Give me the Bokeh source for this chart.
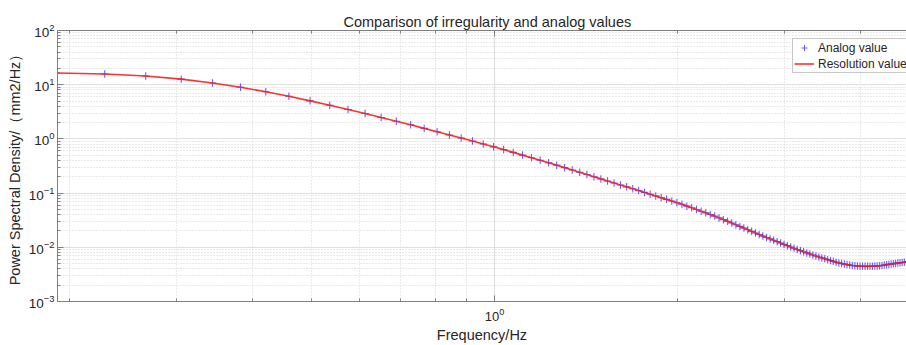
import math
from bokeh.plotting import figure
from bokeh.models import (Range1d, FixedTicker, LogAxis, Legend, LegendItem,
                          CustomJSTickFormatter, LogTickFormatter)
from bokeh.embed import file_html
from bokeh.resources import INLINE

# ---------------- data ----------------
FREQ = [
    0.1900, 0.2284, 0.2668, 0.3052, 0.3436, 0.3820, 0.4204, 0.4588, 0.4972, 0.5356,
    0.5740, 0.6124, 0.6508, 0.6892, 0.7276, 0.7660, 0.8044, 0.8428, 0.8812, 0.9196,
    0.9580, 0.9964, 1.0348, 1.0732, 1.1116, 1.1500, 1.1884, 1.2268, 1.2652, 1.3036,
    1.3420, 1.3804, 1.4188, 1.4572, 1.4956, 1.5340, 1.5724, 1.6108, 1.6492, 1.6876,
    1.7260, 1.7644, 1.8028, 1.8412, 1.8796, 1.9180, 1.9564, 1.9948, 2.0332, 2.0716,
    2.1100, 2.1484, 2.1868, 2.2252, 2.2636, 2.3020, 2.3404, 2.3788, 2.4172, 2.4556,
    2.4940, 2.5324, 2.5708, 2.6092, 2.6476, 2.6860, 2.7244, 2.7628, 2.8012, 2.8396,
    2.8780, 2.9164, 2.9548, 2.9932, 3.0316, 3.0700, 3.1084, 3.1468, 3.1852, 3.2236,
    3.2620, 3.3004, 3.3388, 3.3772, 3.4156, 3.4540, 3.4924, 3.5308, 3.5692, 3.6076,
    3.6460, 3.6844, 3.7228, 3.7612, 3.7996, 3.8380, 3.8764, 3.9148, 3.9532, 3.9916,
    4.0300, 4.0684, 4.1068, 4.1452, 4.1836, 4.2220, 4.2604, 4.2988, 4.3372, 4.3756,
    4.4140, 4.4524, 4.4908, 4.5292, 4.5676, 4.6060, 4.6444, 4.6828, 4.7212, 4.7596,
    4.7980, 4.8364,
]

ANALOG_PSD = [
    16.48, 15.74, 14.45, 12.65, 10.72, 8.954, 7.413, 6.109, 5.035, 4.178,
    3.491, 2.938, 2.489, 2.123, 1.820, 1.563, 1.355, 1.183, 1.038, 0.912,
    0.805, 0.714, 0.635, 0.564, 0.502, 0.449, 0.403, 0.363, 0.328, 0.295,
    0.267, 0.242, 0.220, 0.200, 0.183, 0.1675, 0.1538, 0.1413, 0.1303, 0.1202,
    0.1112, 0.1030, 0.0955, 0.0887, 0.0824, 0.0766, 0.0713, 0.0665, 0.0621, 0.0575,
    0.0535, 0.0497, 0.0462, 0.0432, 0.0403, 0.0376, 0.0349, 0.0324, 0.0301, 0.0280,
    0.0261, 0.0243, 0.0226, 0.0211, 0.0197, 0.0184, 0.0172, 0.0161, 0.0152, 0.0143,
    0.01346, 0.01271, 0.01197, 0.01132, 0.01072, 0.01016, 0.00962, 0.00912, 0.00867, 0.00826,
    0.00789, 0.00753, 0.00719, 0.00689, 0.00661, 0.00637, 0.00614, 0.00592, 0.00570, 0.00550,
    0.00531, 0.00515, 0.00501, 0.00490, 0.00480, 0.00471, 0.00463, 0.00457, 0.00453, 0.00449,
    0.00447, 0.00445, 0.00445, 0.00446, 0.00447, 0.00450, 0.00453, 0.00458, 0.00463, 0.00470,
    0.00478, 0.00484, 0.00491, 0.00498, 0.00505, 0.00511, 0.00518, 0.00524, 0.00531, 0.00537,
    0.00545, 0.00551,
]

RESOLUTION_PSD = list(ANALOG_PSD)

X_TICKS = [1.0]
X_MINOR = [0.2, 0.3, 0.4, 0.5, 0.6, 0.7, 0.8, 0.9, 2.0, 3.0, 4.0]
Y_TICKS = [1e-3, 1e-2, 1e-1, 1e0, 1e1, 1e2]
Y_MINOR = [m * 10.0 ** k for k in range(-3, 2) for m in range(2, 10)]

TITLE = "Comparison of irregularity and analog values"
X_LABEL = "Frequency/Hz"
Y_LABEL = "Power Spectral Density/（mm2/Hz）"
SERIES_NAMES = ["Analog value", "Resolution value"]

# ---------------- styling ----------------
FONT = "Liberation Sans"
TXT = "#262626"
AX = "#808080"

p = figure(width=906, height=345,
           x_axis_type="log", y_axis_type="log",
           x_range=Range1d(0.191, 4.76), y_range=Range1d(1e-3, 1e2),
           output_backend="svg", toolbar_location=None,
           min_border_left=57, min_border_right=0,
           min_border_top=30, min_border_bottom=44,
           title=TITLE)
p.outline_line_color = None
p.background_fill_color = "white"
p.border_fill_color = "white"

p.title.align = "left"
p.title.offset = 286
p.title.text_font = FONT
p.title.text_font_size = "14.5px"
p.title.text_font_style = "normal"
p.title.text_color = TXT
p.title.standoff = 2

bottom = p.below[0]
left = p.left[0]

xt = FixedTicker(ticks=X_TICKS, minor_ticks=X_MINOR)
yt = FixedTicker(ticks=Y_TICKS, minor_ticks=Y_MINOR)
bottom.ticker = xt
p.xgrid.ticker = xt
left.ticker = yt
p.ygrid.ticker = yt

top = LogAxis(ticker=xt, formatter=CustomJSTickFormatter(code="return ''"))
p.add_layout(top, "above")

for ax in [bottom, left, top]:
    ax.axis_line_color = AX
    ax.major_tick_line_color = AX
    ax.minor_tick_line_color = AX
    ax.major_tick_in = 6
    ax.major_tick_out = 0
    ax.minor_tick_in = 3
    ax.minor_tick_out = 0
    ax.major_label_text_font = FONT
    ax.major_label_text_font_size = "13px"
    ax.major_label_text_color = TXT
    ax.axis_label_text_font = FONT
    ax.axis_label_text_font_size = "14.5px"
    ax.axis_label_text_font_style = "normal"
    ax.axis_label_text_color = TXT

left.major_label_text_font_size = "13.5px"
top.major_label_standoff = 0

bottom.formatter = LogTickFormatter()
left.formatter = LogTickFormatter()
bottom.major_label_standoff = 6
left.major_label_standoff = 3
bottom.axis_label = X_LABEL
left.axis_label = Y_LABEL
bottom.axis_label_standoff = 3
left.axis_label_standoff = 3

for g in [p.xgrid[0], p.ygrid[0]]:
    g.grid_line_color = "#e0e0e0"
    g.grid_line_width = 1.2
    g.minor_grid_line_color = "#d2d2d2"
    g.minor_grid_line_dash = "1 2"
    g.minor_grid_line_width = 1

r_sc = p.scatter(FREQ, ANALOG_PSD, marker="cross", size=7.5,
                 line_color="#2020ff", line_alpha=0.7, line_width=1.1)
r_ln = p.line(FREQ, RESOLUTION_PSD, line_color="#ff1a1a", line_width=1.6, line_alpha=0.9)

legend = Legend(items=[LegendItem(label=SERIES_NAMES[0], renderers=[r_sc]),
                       LegendItem(label=SERIES_NAMES[1], renderers=[r_ln])],
                location=(735, 228), padding=1, spacing=1, margin=0,
                glyph_width=20, glyph_height=15, label_height=15, label_standoff=4,
                label_text_font=FONT, label_text_font_size="12px", label_text_color=TXT,
                border_line_color="#909090", border_line_width=1,
                background_fill_color="white", background_fill_alpha=1.0)
p.add_layout(legend)

open("out.html", "w").write(file_html(p, INLINE))
